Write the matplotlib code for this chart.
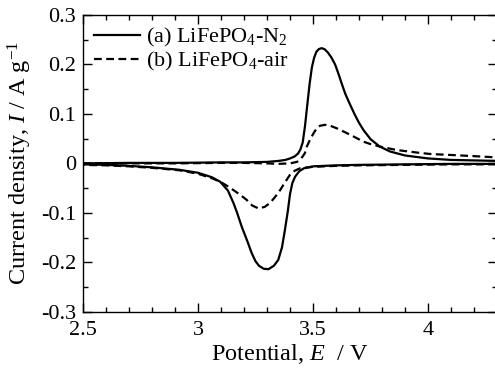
import numpy as np
import matplotlib
matplotlib.use('Agg')
from matplotlib import pyplot as plt
from matplotlib.ticker import MultipleLocator

plt.rcParams['font.family'] = 'Liberation Serif'
plt.rcParams['mathtext.fontset'] = 'custom'
plt.rcParams['mathtext.rm'] = 'Liberation Serif'
plt.rcParams['mathtext.it'] = 'Liberation Serif:italic'

# (a) LiFePO4-N2, anodic sweep 2.5 -> 4.3 V
a_ox_E = [2.5, 2.7, 2.9, 3.1, 3.2, 3.3, 3.35, 3.38, 3.40, 3.42, 3.435, 3.445,
          3.455, 3.465, 3.475, 3.485, 3.495, 3.505, 3.515, 3.525, 3.537, 3.55,
          3.565, 3.58, 3.596, 3.61, 3.625, 3.64, 3.66, 3.68, 3.70, 3.72, 3.75,
          3.79, 3.835, 3.9, 4.0, 4.1, 4.2, 4.3]
a_ox_I = [0.0, 0.001, 0.001, 0.002, 0.002, 0.003, 0.005, 0.007, 0.010, 0.014,
          0.020, 0.028, 0.042, 0.075, 0.118, 0.160, 0.194, 0.214, 0.226, 0.231,
          0.233, 0.231, 0.224, 0.214, 0.200, 0.182, 0.161, 0.141, 0.120, 0.100,
          0.082, 0.067, 0.049, 0.034, 0.024, 0.016, 0.010, 0.007, 0.006, 0.005]
# (a) cathodic sweep 4.3 -> 2.5 V
a_red_E = [4.3, 4.1, 3.9, 3.7, 3.6, 3.5, 3.46, 3.44, 3.422, 3.41, 3.40, 3.39,
           3.378, 3.365, 3.349, 3.33, 3.306, 3.285, 3.265, 3.25, 3.233, 3.215,
           3.19, 3.17, 3.154, 3.13, 3.096, 3.06, 3.0, 2.92, 2.8, 2.7, 2.6, 2.5]
a_red_I = [-0.001, -0.001, -0.002, -0.003, -0.004, -0.006, -0.010, -0.016,
           -0.027, -0.040, -0.062, -0.098, -0.134, -0.170, -0.195, -0.207,
           -0.214, -0.213, -0.207, -0.198, -0.181, -0.158, -0.128, -0.100,
           -0.080, -0.055, -0.037, -0.028, -0.019, -0.013, -0.008, -0.005,
           -0.003, -0.002]

# (b) LiFePO4-air
b_ox_E = [2.5, 2.7, 2.9, 3.1, 3.2, 3.3, 3.35, 3.40, 3.43, 3.443, 3.455, 3.465,
          3.473, 3.484, 3.494, 3.505, 3.516, 3.53, 3.552, 3.575, 3.603, 3.63,
          3.661, 3.69, 3.719, 3.75, 3.791, 3.864, 3.95, 4.009, 4.1, 4.226, 4.3]
b_ox_I = [0.0, 0.0, 0.0, 0.001, 0.001, 0.0, -0.001, 0.0, 0.003, 0.007, 0.014,
          0.021, 0.034, 0.045, 0.054, 0.063, 0.071, 0.076, 0.078, 0.076, 0.071,
          0.065, 0.058, 0.051, 0.044, 0.039, 0.034, 0.027, 0.022, 0.019, 0.017,
          0.014, 0.012]
b_red_E = [4.3, 4.1, 3.9, 3.7, 3.6, 3.5, 3.46, 3.443, 3.42, 3.40, 3.38, 3.357,
           3.335, 3.313, 3.29, 3.262, 3.235, 3.212, 3.185, 3.154, 3.125, 3.096,
           3.06, 3.0, 2.92, 2.8, 2.7, 2.6, 2.5]
b_red_I = [-0.002, -0.002, -0.003, -0.004, -0.005, -0.007, -0.009, -0.010,
           -0.015, -0.023, -0.037, -0.054, -0.068, -0.080, -0.088, -0.091,
           -0.085, -0.074, -0.064, -0.054, -0.045, -0.037, -0.030, -0.021,
           -0.014, -0.009, -0.006, -0.004, -0.003]

fig = plt.figure(figsize=(4.95, 3.72), dpi=100)
ax = fig.add_axes([0.1677, 0.162, 0.8364, 0.7976])

ax.plot(a_ox_E + a_red_E, a_ox_I + a_red_I, 'k-', lw=1.6,
        label='(a) LiFePO$_4$-N$_2$')
ax.plot(b_ox_E + b_red_E, b_ox_I + b_red_I, 'k--', lw=1.6, dashes=(3.5, 2),
        label='(b) LiFePO$_4$-air')

ax.set_xlim(2.5, 4.3)
ax.set_ylim(-0.3, 0.3)
ax.xaxis.set_minor_locator(MultipleLocator(0.1))
ax.yaxis.set_minor_locator(MultipleLocator(0.05))
ax.set_xticks([2.5, 3, 3.5, 4])
ax.set_xticklabels(['2.5', '3', '3.5', '4'])
ax.set_yticks([-0.3, -0.2, -0.1, 0, 0.1, 0.2, 0.3])
ax.set_yticklabels(['-0.3', '-0.2', '-0.1', '0', '0.1', '0.2', '0.3'])
ax.tick_params(which='both', direction='in', top=True, right=True,
               labelsize=16, width=1)
ax.tick_params(which='major', length=6.5, pad=5)
ax.tick_params(axis='x', which='major', pad=7)
ax.tick_params(which='minor', length=3.5)
for s in ax.spines.values():
    s.set_linewidth(1)

ax.set_xlabel('Potential, $E$  / V', fontsize=17.5, labelpad=1)
ax.set_ylabel('Current density, $I$ / A g$^{-1}$', fontsize=17.5, labelpad=5)

ax.legend(loc='upper left', frameon=False, fontsize=16, handlelength=2.05,
          handletextpad=0.3, borderaxespad=0.1, labelspacing=0.05,
          borderpad=0.4)

fig.savefig('out.png', dpi=100)
